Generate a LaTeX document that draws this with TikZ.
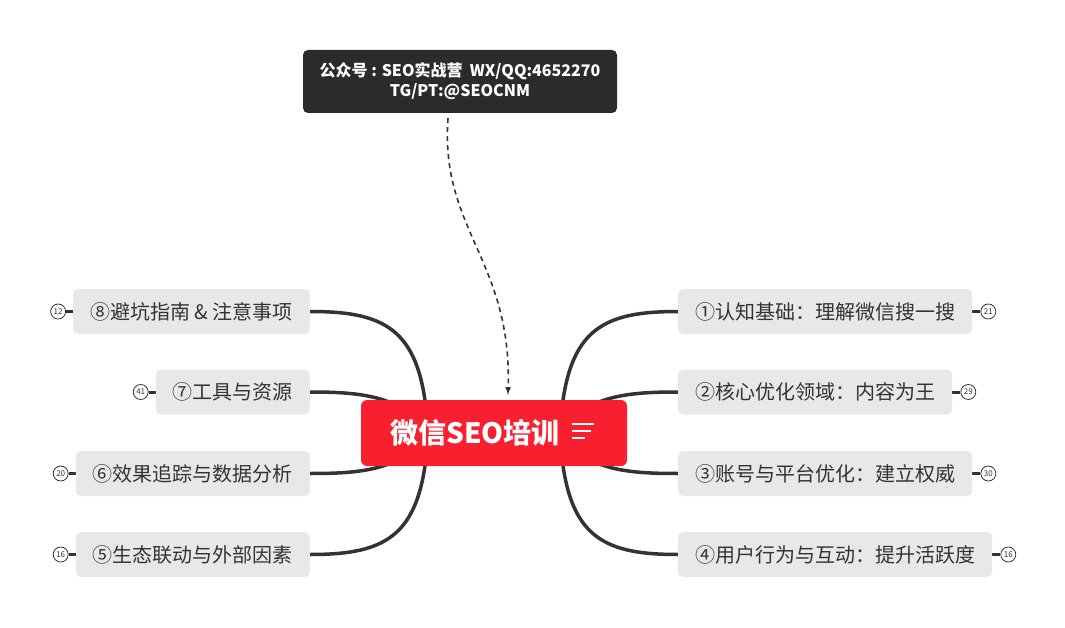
\documentclass[tikz,border=0pt]{standalone}
\usepackage{fontspec}
\setmainfont{Noto Sans CJK SC}
\usetikzlibrary{positioning,backgrounds}
\definecolor{hubred}{HTML}{F8202F}
\definecolor{notedark}{HTML}{2B2B2B}
\definecolor{topicgray}{HTML}{E8E8E8}
\definecolor{linegray}{HTML}{333333}
\begin{document}
\begin{tikzpicture}[x=1pt,y=-1pt,>=latex,
  hub/.style={fill=hubred,text=white,rounded corners=6pt,minimum width=266pt,minimum height=66pt,font=\bfseries\fontsize{28}{28}\selectfont},
  note/.style={fill=notedark,text=white,rounded corners=5pt,minimum width=314pt,minimum height=63pt,align=center,font=\bfseries\fontsize{16}{20}\selectfont},
  topic/.style={fill=topicgray,rounded corners=5pt,minimum height=45pt,inner xsep=17pt,inner ysep=0pt,text=linegray,font=\fontsize{20}{20}\selectfont},
  badge/.style={circle,draw=linegray,line width=0.8pt,minimum size=15pt,inner sep=0pt,text=linegray,font=\fontsize{8}{8}\selectfont},
  branch/.style={draw=linegray,line width=3.5pt},
  stub/.style={draw=linegray,line width=3pt}]
\useasboundingbox (0,0) rectangle (1065,628);
% centre begin
\node[hub] (ctr) at (494,433) {微信SEO培训\hspace*{38pt}};
\draw[white,line width=2pt] ([xshift=-55pt,yshift=9pt]ctr.east) -- ++(22,0);
\draw[white,line width=2pt] ([xshift=-55pt,yshift=2pt]ctr.east) -- ++(19,0);
\draw[white,line width=2pt] ([xshift=-55pt,yshift=-5pt]ctr.east) -- ++(13,0);
% centre end
\node[note] (memo) at (460,81.5) {公众号 : SEO实战营\ \ WX/QQ:4652270\\TG/PT:@SEOCNM};
\draw[linegray,line width=1.6pt,dash pattern=on 5pt off 4pt,->] ([xshift=-12pt,yshift=-5pt]memo.south) .. controls (440,230) and (512,260) .. ([xshift=14pt,yshift=5pt]ctr.north);
% right begin
\node[topic,anchor=west] (t1) at (678,311.5) {①认知基础：理解微信搜一搜};
\node[topic,anchor=west] (t2) at (678,392) {②核心优化领域：内容为王};
\node[topic,anchor=west] (t3) at (678,473.5) {③账号与平台优化：建立权威};
\node[topic,anchor=west] (t4) at (678,554.5) {④用户行为与互动：提升活跃度};
\node[badge,right=8pt of t1] (n1) {21};
\node[badge,right=8pt of t2] (n2) {29};
\node[badge,right=8pt of t3] (n3) {30};
\node[badge,right=8pt of t4] (n4) {16};
% right end
% left begin
\node[topic,anchor=east] (t8) at (310,311.5) {⑧避坑指南 \& 注意事项};
\node[topic,anchor=east] (t7) at (310,392) {⑦工具与资源};
\node[topic,anchor=east] (t6) at (310,473.5) {⑥效果追踪与数据分析};
\node[topic,anchor=east] (t5) at (310,554.5) {⑤生态联动与外部因素};
\node[badge,left=7pt of t8] (n8) {12};
\node[badge,left=7pt of t7] (n7) {41};
\node[badge,left=7pt of t6] (n6) {20};
\node[badge,left=7pt of t5] (n5) {16};
% left end
\begin{scope}[on background layer]
\fill[white] (0,0) rectangle (1065,628);
\coordinate (rhub) at (560,433);
\coordinate (lhub) at (428,433);
\draw[branch] (rhub) .. controls (565,330) and (600,311.5) .. (t1.west);
\draw[branch] (rhub) .. controls (585,395) and (630,392) .. (t2.west);
\draw[branch] (rhub) .. controls (585,471) and (630,473.5) .. (t3.west);
\draw[branch] (rhub) .. controls (565,536) and (600,554.5) .. (t4.west);
\draw[branch] (lhub) .. controls (423,330) and (388,311.5) .. (t8.east);
\draw[branch] (lhub) .. controls (403,395) and (358,392) .. (t7.east);
\draw[branch] (lhub) .. controls (403,471) and (358,473.5) .. (t6.east);
\draw[branch] (lhub) .. controls (423,536) and (388,554.5) .. (t5.east);
\draw[stub] (t1) -- (n1);
\draw[stub] (t2) -- (n2);
\draw[stub] (t3) -- (n3);
\draw[stub] (t4) -- (n4);
\draw[stub] (t8) -- (n8);
\draw[stub] (t7) -- (n7);
\draw[stub] (t6) -- (n6);
\draw[stub] (t5) -- (n5);
\end{scope}
\end{tikzpicture}
\end{document}
